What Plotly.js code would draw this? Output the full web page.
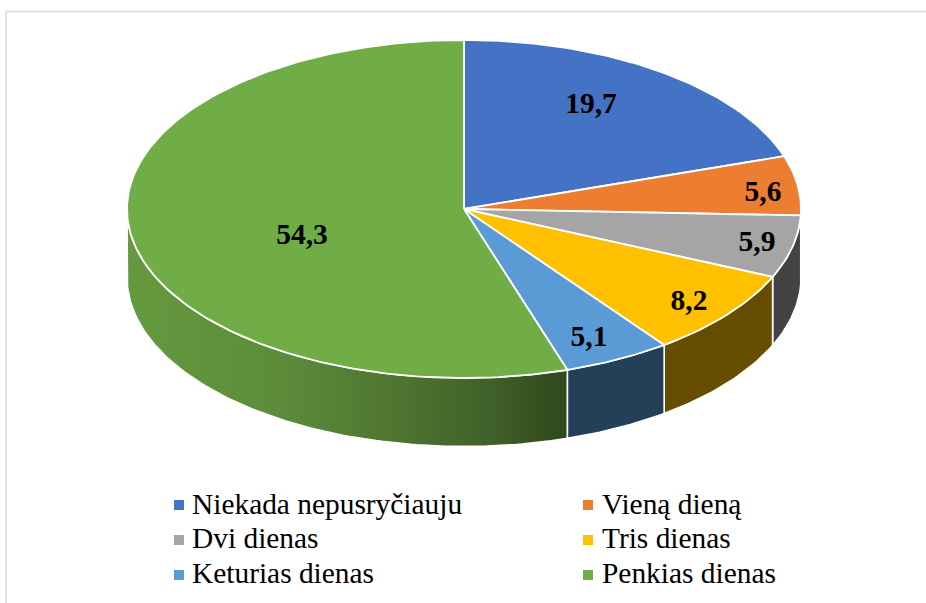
<!DOCTYPE html>
<html><head><meta charset="utf-8">
<script src="https://cdn.plot.ly/plotly-3.0.1.min.js"></script>
<style>html,body{margin:0;padding:0;background:#fff}#c{width:926px;height:603px}</style>
</head><body><div id="c"></div>
<script>
const categories = ['Niekada nepusryčiauju','Vieną dieną','Dvi dienas','Tris dienas','Keturias dienas','Penkias dienas'];
const values = [19.7,5.6,5.9,8.2,5.1,54.3];
const valueLabels = ['19,7','5,6','5,9','8,2','5,1','54,3'];
const topColors = ['#4472c4','#ed7d31','#a5a5a5','#ffc000','#5b9bd5','#70ad47'];
const sideColors = ['#29446f','#8a4a1f','#434343','#664d00','#243f58','#3f6329'];

// layout constants (pixel-space axes)
const cx=464, cy=209, rx=337, ry=169, depth=68.5;
const labelX=[591,763,757,689,589,302], labelY=[106,194,244,303,339,237];
const legX=[179,588,179,588,179,588], legY=[505,505,540,540,575,575];
const legTextX=[192,602,192,602,192,602], legTextY=[506.5,506.5,541,541,576,576];

const total = values.reduce((a,b)=>a+b,0);
const pt=(deg,dy=0)=>{const r=deg*Math.PI/180;return [cx+rx*Math.sin(r),cy-ry*Math.cos(r)+dy];};
const arc=(a,b,dy=0)=>{const out=[],n=Math.max(2,Math.ceil(Math.abs(b-a)));for(let i=0;i<=n;i++)out.push(pt(a+(b-a)*i/n,dy));return out;};

const sides=[], tops=[];
let cum=0;
values.forEach((v,i)=>{
  const a=cum/total*360, b=(cum+v)/total*360; cum+=v;
  const s=Math.max(a,90), e=Math.min(b,270);
  if(e>s){
    const p=arc(s,e).concat(arc(e,s,depth)); p.push(p[0]);
    const tr={type:'scatter',mode:'lines',x:p.map(q=>q[0]),y:p.map(q=>q[1]),fill:'toself',fillcolor:sideColors[i],
      line:{color:'#ffffff',width:1.6},hoverinfo:'skip',showlegend:false};
    if(i===5){
      tr.fillgradient={type:'horizontal',start:cx-rx,stop:cx+105,
        colorscale:[[0,'#65993f'],[0.35,'#5c8c3a'],[0.6,'#4f7630'],[0.8,'#41632a'],[1,'#2f481b']]};
    }
    sides.push(tr);
  }
  const t=[[cx,cy]].concat(arc(a,b)); t.push([cx,cy]);
  tops.push({type:'scatter',mode:'lines',name:categories[i],x:t.map(q=>q[0]),y:t.map(q=>q[1]),fill:'toself',fillcolor:topColors[i],
    line:{color:'#ffffff',width:1.8},hoverinfo:'name+text',text:valueLabels[i],showlegend:false});
});

const labels={type:'scatter',mode:'text',x:labelX,y:labelY,text:valueLabels,textposition:'middle center',
  textfont:{family:'"Liberation Serif",serif',size:29.5,color:'#000000',weight:700},hoverinfo:'skip',showlegend:false};
const legendKeys={type:'scatter',mode:'markers',x:legX,y:legY,
  marker:{symbol:'square',size:10,color:topColors},hoverinfo:'skip',showlegend:false};
const legendText={type:'scatter',mode:'text',x:legTextX,y:legTextY,text:categories,textposition:'middle right',
  textfont:{family:'"Liberation Serif",serif',size:29.4,color:'#000000'},hoverinfo:'skip',showlegend:false};

const layout={width:926,height:603,margin:{l:0,r:0,t:0,b:0},paper_bgcolor:'#fff',plot_bgcolor:'#fff',showlegend:false,
  xaxis:{range:[0,926],visible:false,fixedrange:true},
  yaxis:{range:[603,0],visible:false,fixedrange:true},
  shapes:[{type:'line',x0:6,x1:6,y0:11.5,y1:603,line:{color:'#d9d9d9',width:1.5}},
          {type:'line',x0:6,x1:926,y0:11.5,y1:11.5,line:{color:'#d9d9d9',width:1.5}}]};
Plotly.newPlot('c',sides.concat(tops,[labels,legendKeys,legendText]),layout,{displayModeBar:false,staticPlot:true});
</script></body></html>
